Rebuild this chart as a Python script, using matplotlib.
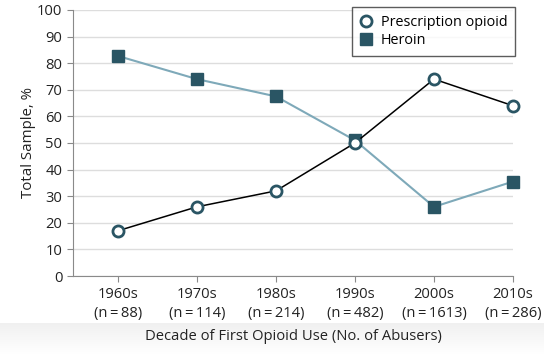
import matplotlib.pyplot as plt
import numpy as np

# data
decades = ['1960s', '1970s', '1980s', '1990s', '2000s', '2010s']
n_abusers = [88, 114, 214, 482, 1613, 286]
prescription = [17, 26, 32, 50, 74, 64]
heroin = [82.7, 74, 67.5, 51, 26, 35.5]

dark = '#2a5564'
light = '#7ea9b9'
grey = '#8a8a8a'

plt.rcParams['font.family'] = ['Open Sans', 'DejaVu Sans']

fig = plt.figure(figsize=(5.44, 3.55), dpi=100)

# grey gradient strip at the bottom
bg = fig.add_axes([0, 0, 1, 0.09], zorder=-5)
grad = np.linspace(1, 0, 50).reshape(-1, 1)
bg.imshow(grad, aspect='auto', cmap='Greys', vmin=0, vmax=8, extent=[0, 1, 0, 1])
bg.axis('off')

ax = fig.add_axes([0.134, 0.2225, 0.809, 0.7495])
x = np.arange(len(decades))

ax.plot(x, heroin, color=light, lw=1.5, marker='s', ms=8.5,
        mfc=dark, mec=dark, label='Heroin', zorder=3, clip_on=False)
ax.plot(x, prescription, color='black', lw=1.1, marker='o', ms=8,
        mfc='white', mec=dark, mew=2, label='Prescription opioid', zorder=4,
        clip_on=False)

ax.set_xlim(-0.57, 5)
ax.set_ylim(0, 100)
ax.set_yticks(range(0, 101, 10))
ax.set_xticks(x)
ax.set_xticklabels([f'{d}\n(n\u2009=\u2009{n})' for d, n in zip(decades, n_abusers)],
                   linespacing=1.35)

ax.grid(axis='y', color='#dddddd', lw=1)
ax.set_axisbelow(True)
for s in ['top', 'right']:
    ax.spines[s].set_visible(False)
for s in ['left', 'bottom']:
    ax.spines[s].set_color(grey)
ax.tick_params(colors=grey, labelcolor='#222222', labelsize=10.6, length=4)
ax.tick_params(axis='x', pad=4)

ax.set_ylabel('Total Sample, %', fontsize=10.8, color='#222222', labelpad=1)
ax.set_xlabel('Decade of First Opioid Use (No. of Abusers)', fontsize=10.6,
              color='#222222', labelpad=6)

handles, labels = ax.get_legend_handles_labels()
leg = ax.legend(handles[::-1], labels[::-1], loc='upper right',
                bbox_to_anchor=(1.005, 1.012), fontsize=10.4, frameon=True,
                fancybox=False, handlelength=0.8, handletextpad=0.6,
                borderpad=0.55, labelspacing=0.25, borderaxespad=0.0)
leg.get_frame().set_edgecolor('#333333')
leg.get_frame().set_linewidth(1)
for h in leg.legend_handles:
    h.set_linestyle('none')

fig.savefig('out.png', dpi=100)
